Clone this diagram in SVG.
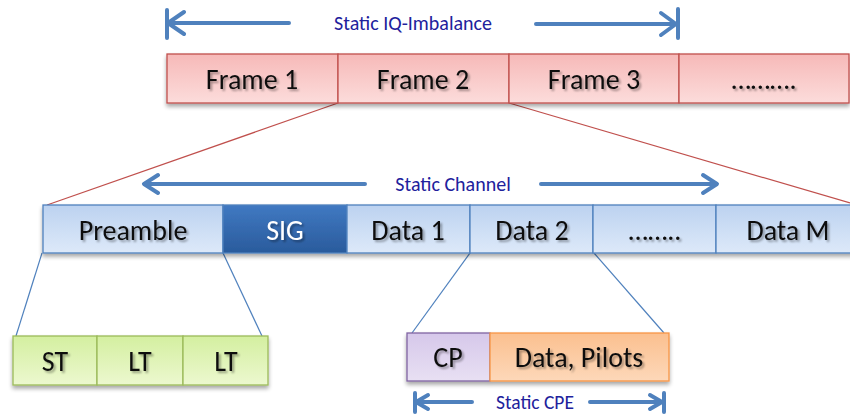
<svg xmlns="http://www.w3.org/2000/svg" width="850" height="417" viewBox="0 0 850 417">
  <defs>
    <linearGradient id="gRed" x1="0" y1="0" x2="0" y2="1">
      <stop offset="0" stop-color="#f6b9b8"/>
      <stop offset="1" stop-color="#fcdcdb"/>
    </linearGradient>
    <linearGradient id="gBlue" x1="0" y1="0" x2="0" y2="1">
      <stop offset="0" stop-color="#bcd2f0"/>
      <stop offset="1" stop-color="#dde9f9"/>
    </linearGradient>
    <linearGradient id="gSig" x1="0" y1="0" x2="0" y2="1">
      <stop offset="0" stop-color="#4079c2"/>
      <stop offset="1" stop-color="#2a5b9c"/>
    </linearGradient>
    <linearGradient id="gGreen" x1="0" y1="0" x2="0" y2="1">
      <stop offset="0" stop-color="#d4efa0"/>
      <stop offset="1" stop-color="#ecf8cf"/>
    </linearGradient>
    <linearGradient id="gPurple" x1="0" y1="0" x2="0" y2="1">
      <stop offset="0" stop-color="#d6c8ea"/>
      <stop offset="1" stop-color="#e8e0f3"/>
    </linearGradient>
    <linearGradient id="gOrange" x1="0" y1="0" x2="0" y2="1">
      <stop offset="0" stop-color="#fbc08f"/>
      <stop offset="1" stop-color="#fdd8b9"/>
    </linearGradient>
    <filter id="boxShadow" x="-5%" y="-10%" width="110%" height="140%">
      <feGaussianBlur in="SourceAlpha" stdDeviation="2"/>
      <feOffset dx="0" dy="3" result="b"/>
      <feComponentTransfer><feFuncA type="linear" slope="0.35"/></feComponentTransfer>
      <feMerge><feMergeNode/><feMergeNode in="SourceGraphic"/></feMerge>
    </filter>
    <filter id="textShadow" x="-10%" y="-20%" width="120%" height="150%">
      <feGaussianBlur in="SourceAlpha" stdDeviation="1"/>
      <feOffset dx="1.5" dy="1.5"/>
      <feComponentTransfer><feFuncA type="linear" slope="0.35"/></feComponentTransfer>
      <feMerge><feMergeNode/><feMergeNode in="SourceGraphic"/></feMerge>
    </filter>
  </defs>
  <style>
    text { font-family: Carlito, Lato, "Open Sans", sans-serif; text-anchor: middle; dominant-baseline: central; }
    .lbl { font-size: 28px; fill: #111; filter: url(#textShadow); }
    .lbl.white { fill: #fff; }
    .note { font-size: 20px; fill: #21219c; }
    .note.small { font-size: 19.5px; }
    .red { fill: url(#gRed); stroke: #c0504d; stroke-width: 1.3; }
    .blue { fill: url(#gBlue); stroke: #4f81bd; stroke-width: 1.3; }
    .sig { fill: url(#gSig); stroke: #4f81bd; stroke-width: 1.3; }
    .green { fill: url(#gGreen); stroke: #9bbb59; stroke-width: 1.3; }
    .purple { fill: url(#gPurple); stroke: #8064a2; stroke-width: 1.3; }
    .orange { fill: url(#gOrange); stroke: #f79646; stroke-width: 1.3; }
    .span { fill: none; stroke: #4f81bd; stroke-width: 4; stroke-linecap: round; stroke-linejoin: round; }
    .zoomRed { stroke: #c0504d; stroke-width: 1.2; fill: none; }
    .zoomBlue { stroke: #4f81bd; stroke-width: 1.2; fill: none; }
    .row { filter: url(#boxShadow); }
  </style>

  <!-- connectors: zoom-in lines between the rows -->
  <g id="connectors">
    <line class="zoomRed" x1="338" y1="103" x2="47" y2="205"/>
    <line class="zoomRed" x1="509" y1="103" x2="850" y2="203"/>
    <line class="zoomBlue" x1="42" y1="253" x2="16" y2="336"/>
    <line class="zoomBlue" x1="223" y1="253" x2="262" y2="336"/>
    <line class="zoomBlue" x1="470" y1="253" x2="412" y2="333"/>
    <line class="zoomBlue" x1="594" y1="253" x2="664" y2="333"/>
  </g>

  <!-- span indicators -->
  <g id="span-iq">
    <path class="span" d="M167,10 V38 M167,23 H289 M184,12 L168,23 L184,34"/>
    <path class="span" d="M678,9 V38 M536,24 H676 M661,13 L676,24 L661,35"/>
    <text class="note" x="413" y="23">Static IQ-Imbalance</text>
  </g>
  <g id="span-channel">
    <path class="span" d="M365,184 H145 M158,175 L144,184 L158,193"/>
    <path class="span" d="M541,184 H715 M703,175 L717,184 L703,193"/>
    <text class="note" x="453" y="184">Static Channel</text>
  </g>
  <g id="span-cpe">
    <path class="span" d="M415,393 V412 M415,402 H472 M428,395 L416,402 L428,409"/>
    <path class="span" d="M664,393 V412 M590,402 H662 M650,395 L662,402 L650,409"/>
    <text class="note small" x="535" y="402">Static CPE</text>
  </g>

  <!-- frame row -->
  <g class="row">
    <g id="frame1"><rect class="red" x="167" y="54" width="171" height="49"/><text class="lbl" x="252" y="79">Frame 1</text></g>
    <g id="frame2"><rect class="red" x="338" y="54" width="171" height="49"/><text class="lbl" x="423" y="79">Frame 2</text></g>
    <g id="frame3"><rect class="red" x="509" y="54" width="170" height="49"/><text class="lbl" x="594" y="79">Frame 3</text></g>
    <g id="frame-more"><rect class="red" x="679" y="54" width="170" height="49"/><text class="lbl" x="764" y="79">……….</text></g>
  </g>

  <!-- symbol row -->
  <g class="row">
    <g id="preamble"><rect class="blue" x="43" y="205" width="180" height="48"/><text class="lbl" x="133" y="230">Preamble</text></g>
    <g id="sig"><rect class="sig" x="223" y="205" width="124" height="48"/><text class="lbl white" x="285" y="230">SIG</text></g>
    <g id="data1"><rect class="blue" x="347" y="205" width="123" height="48"/><text class="lbl" x="408" y="230">Data 1</text></g>
    <g id="data2"><rect class="blue" x="470" y="205" width="123" height="48"/><text class="lbl" x="532" y="230">Data 2</text></g>
    <g id="data-more"><rect class="blue" x="593" y="205" width="123" height="48"/><text class="lbl" x="655" y="230">……..</text></g>
    <g id="dataM"><rect class="blue" x="716" y="205" width="140" height="48"/><text class="lbl" x="788" y="230">Data M</text></g>
  </g>

  <!-- preamble fields -->
  <g class="row">
    <g id="st"><rect class="green" x="13" y="336" width="84" height="49"/><text class="lbl" x="55" y="361">ST</text></g>
    <g id="lt1"><rect class="green" x="97" y="336" width="86" height="49"/><text class="lbl" x="140" y="361">LT</text></g>
    <g id="lt2"><rect class="green" x="183" y="336" width="85" height="49"/><text class="lbl" x="226" y="361">LT</text></g>
  </g>

  <!-- OFDM symbol fields -->
  <g class="row">
    <g id="cp"><rect class="purple" x="407" y="333" width="83" height="48"/><text class="lbl" x="448" y="357">CP</text></g>
    <g id="payload"><rect class="orange" x="490" y="333" width="179" height="48"/><text class="lbl" x="579" y="357">Data, Pilots</text></g>
  </g>
</svg>
